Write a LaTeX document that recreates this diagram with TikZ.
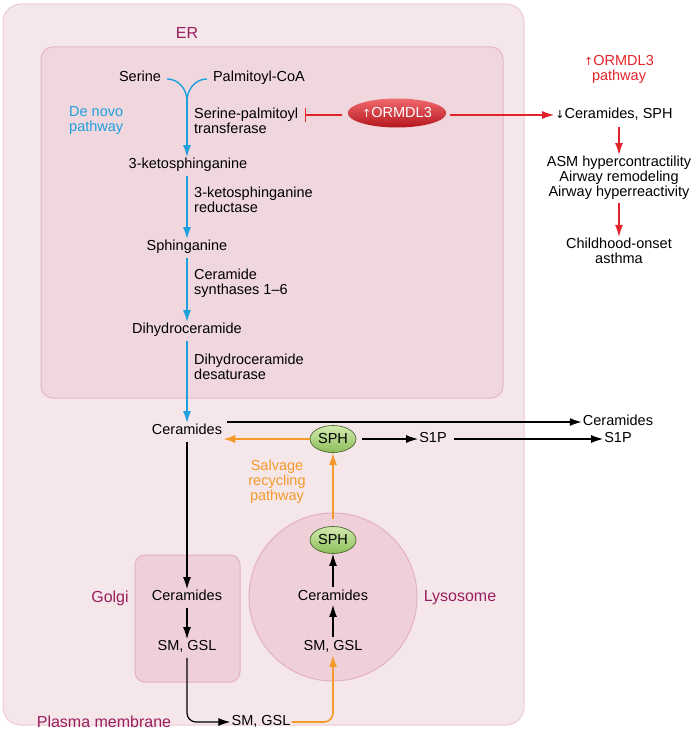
\documentclass[tikz,border=0pt]{standalone}
\usepackage{fontspec}
\setmainfont{Liberation Sans}
\newfontfamily\symfont{DejaVu Sans}
\usetikzlibrary{shapes.geometric,arrows.meta,shadings}
\definecolor{cellfill}{HTML}{F5E6EA}
\definecolor{celldraw}{HTML}{EBCBD4}
\definecolor{erfill}{HTML}{F0D7DE}
\definecolor{erdraw}{HTML}{E3B8C4}
\definecolor{orgfill}{HTML}{EFD0D9}
\definecolor{orgdraw}{HTML}{E2B1C0}
\definecolor{labpurple}{HTML}{991F5E}
\definecolor{denovo}{HTML}{1EA0DC}
\definecolor{ormred}{HTML}{E3242B}
\definecolor{salv}{HTML}{F39A2B}
\definecolor{sphlight}{HTML}{D2EAB0}
\definecolor{sphdark}{HTML}{8DBE5A}
\definecolor{redlight}{HTML}{F06A6E}
\definecolor{reddark}{HTML}{B5161D}
\tikzset{
  txt/.style={inner sep=1pt, font=\fontsize{14.5}{16}\selectfont, text height=10.4pt, text depth=3pt},
  mtxt/.style={inner sep=1pt, font=\fontsize{14.5}{15}\selectfont},
  lab/.style={inner sep=1pt, font=\fontsize{16}{18}\selectfont, text=labpurple},
  blar/.style={draw=denovo, line width=1.4pt, -{Latex[length=12pt,width=8pt]}},
  bkar/.style={draw=black, line width=1.2pt, -{Latex[length=12pt,width=8pt]}},
  orar/.style={draw=salv, line width=1.6pt, -{Latex[length=12pt,width=8pt]}},
  rdar/.style={draw=ormred, line width=1.4pt, -{Latex[length=12pt,width=8pt]}},
  sph/.style={ellipse, draw=sphdark!55!black, line width=0.7pt, top color=sphlight, bottom color=sphdark, minimum width=46pt, minimum height=27pt, inner sep=0pt, font=\fontsize{14.5}{16}\selectfont},
}
\begin{document}
\begin{tikzpicture}[x=1pt,y=-1pt]
\useasboundingbox (0,0) rectangle (694,738);
% compartments
\draw[fill=cellfill, draw=celldraw, line width=1pt, rounded corners=18pt] (3,4) rectangle (524,725);
\draw[fill=erfill, draw=erdraw, line width=1pt, rounded corners=12pt] (41,47) rectangle (503,398);
\draw[fill=orgfill, draw=orgdraw, line width=1pt, rounded corners=10pt] (135,555) rectangle (240,682);
\draw[fill=orgfill, draw=orgdraw, line width=1pt] (333,597) circle (84);
% labels
\node[lab] (erl) at (187,33) {ER};
\node[lab] (golgil) at (110,598) {Golgi};
\node[lab] (lysol) at (460,598) {Lysosome};
\node[lab] (pml) at (104,722) {Plasma membrane};
% de novo
\node[txt] (serine) at (140,78) {Serine};
\node[txt] (palm) at (259,78) {Palmitoyl-CoA};
\coordinate (merge) at (187,101);
\node[mtxt, text=denovo, align=left, anchor=west] (dnp) at (68,121) {De novo\\pathway};
\node[mtxt, align=left, anchor=west] (spt) at (193,121) {Serine-palmitoyl\\transferase};
\node[txt] (keto) at (188,165) {3-ketosphinganine};
\node[mtxt, align=left, anchor=west] (ketored) at (193,200) {3-ketosphinganine\\reductase};
\node[txt] (sphing) at (187,247) {Sphinganine};
\node[mtxt, align=left, anchor=west] (cers) at (193,283) {Ceramide\\synthases 1–6};
\node[txt] (dhc) at (187,330) {Dihydroceramide};
\node[mtxt, align=left, anchor=west] (dhcd) at (193,367) {Dihydroceramide\\desaturase};
\node[txt] (cer) at (187,431) {Ceramides};
\draw[denovo, line width=1.4pt] (serine.east) ++(5,1) to[out=0,in=90] (merge);
\draw[denovo, line width=1.4pt] (palm.west) ++(-5,1) to[out=180,in=90] (merge);
\draw[blar] (merge) -- (keto.north -| merge);
\draw[blar] (keto.south -| merge) ++(0,3) -- (sphing.north -| merge);
\draw[blar] (sphing.south -| merge) ++(0,3) -- (dhc.north -| merge);
\draw[blar] (dhc.south -| merge) ++(0,3) -- (cer.north -| merge);
% ORMDL3
\node[ellipse, top color=redlight, bottom color=reddark, minimum width=92pt, minimum height=29pt, inner sep=0pt, text=white, font=\fontsize{14.5}{16}\selectfont] (orm) at (397,113) {{\symfont\fontsize{11}{12}\selectfont ↑}ORMDL3};
\coordinate (inhib) at (305,115);
\draw[ormred, line width=1.4pt, -{Bar[width=14pt]}] (orm.west) ++(-6,2) -- (inhib);
\node[mtxt, text=ormred, align=center] (ormp) at (619,69) {{\symfont\fontsize{11}{12}\selectfont ↑}ORMDL3\\pathway};
\node[txt] (csph) at (614,115) {{\symfont\fontsize{11}{12}\selectfont ↓}Ceramides, SPH};
\draw[rdar] (orm.east) ++(4,2) -- (csph.west);
\node[mtxt, align=center] (asm) at (619,178) {ASM hypercontractility\\Airway remodeling\\Airway hyperreactivity};
\node[mtxt, align=center] (asth) at (619,251) {Childhood-onset\\asthma};
\draw[rdar] (619,127) -- (asm.north);
\draw[rdar] (asm.south) ++(0,2) -- (asth.north);
% salvage and exits
\node[sph] (sph1) at (333,439) {SPH};
\node[txt] (s1p) at (433,439) {S1P};
\node[txt] (cerout) at (618,422) {Ceramides};
\node[txt] (s1pout) at (618,439) {S1P};
\draw[bkar] (cer.east) ++(4,-9) -- (cerout.west);
\draw[bkar] (s1p.east) ++(6,0) -- (s1pout.west);
\draw[orar] (sph1.west) -- (cer.east |- sph1.west);
\draw[bkar] (sph1.east) ++(6,0) -- (s1p.west);
\node[mtxt, text=salv, align=center] (salvl) at (277,482) {Salvage\\recycling\\pathway};
% lysosome
\node[sph] (sph2) at (333,540) {SPH};
\node[txt] (cerly) at (333,597) {Ceramides};
\node[txt] (smly) at (333,647) {SM, GSL};
\draw[orar] (sph2.north) ++(0,-7) -- (sph1.south);
\draw[bkar] (cerly.north) ++(0,-2) -- (sph2.south);
\draw[bkar] (smly.north) ++(0,-2) -- (cerly.south);
% golgi
\node[txt] (cergo) at (187,597) {Ceramides};
\node[txt] (smgo) at (187,647) {SM, GSL};
\draw[bkar] (cer.south) ++(0,3) -- (cergo.north);
\draw[bkar] (cergo.south) ++(0,3) -- (smgo.north);
% plasma membrane
\node[txt] (smpm) at (261,722) {SM, GSL};
\draw[bkar, rounded corners=9pt] (smgo.south) ++(0,3) |- (smpm.west);
\draw[orar, rounded corners=9pt] (smpm.east) -| (smly.south);
\end{tikzpicture}
\end{document}
